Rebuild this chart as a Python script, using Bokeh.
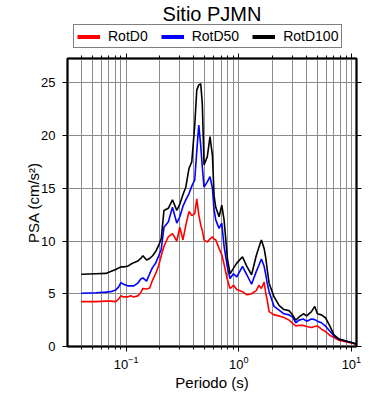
from bokeh.plotting import figure
from bokeh.layouts import column
from bokeh.models import (LogAxis, LinearAxis, FixedTicker, Legend, LegendItem, Range1d)
from bokeh.embed import file_html
from bokeh.resources import INLINE

periods = [0.040, 0.054, 0.066, 0.073, 0.081, 0.086, 0.090, 0.095, 0.103, 0.110,
           0.117, 0.127, 0.135, 0.141, 0.152, 0.162, 0.172, 0.183, 0.195, 0.205,
           0.217, 0.237, 0.258, 0.282, 0.300, 0.320, 0.339, 0.362, 0.383, 0.407,
           0.424, 0.442, 0.460, 0.475, 0.492, 0.526, 0.556, 0.584, 0.604, 0.625,
           0.669, 0.707, 0.741, 0.794, 0.837, 0.897, 0.960, 1.08, 1.18, 1.30,
           1.43, 1.51, 1.59, 1.68, 1.74, 1.79, 1.86, 2.06, 2.28, 2.52,
           2.80, 3.00, 3.21, 3.43, 3.75, 4.01, 4.42, 4.73, 4.99, 5.42,
           5.92, 6.46, 7.01, 7.76, 8.90, 10.2, 11.0]

rotd100 = [6.85, 6.90, 6.93, 7.10, 7.30, 7.45, 7.55, 7.55, 7.60, 7.80,
           7.95, 8.10, 8.35, 8.60, 8.20, 8.35, 8.60, 9.00, 9.60, 10.2,
           12.9, 13.1, 13.9, 12.9, 13.5, 14.4, 15.1, 16.9, 17.5, 21.0,
           24.3, 24.8, 24.9, 23.0, 17.2, 18.0, 19.9, 18.1, 14.3, 13.2,
           12.3, 13.4, 12.0, 8.30, 6.90, 7.40, 7.90, 8.50, 7.60, 6.80,
           8.60, 9.40, 10.1, 9.30, 8.35, 7.30, 6.00, 4.70, 3.90, 3.50,
           3.40, 3.00, 2.50, 2.80, 3.10, 2.90, 3.30, 3.80, 3.10, 3.00,
           2.70, 1.90, 1.10, 0.70, 0.52, 0.36, 0.24]

rotd50 = [5.05, 5.10, 5.15, 5.20, 5.35, 5.65, 6.05, 5.90, 5.75, 5.75,
          5.75, 6.00, 6.40, 6.50, 6.20, 6.90, 7.50, 7.90, 8.60, 9.20,
          11.3, 11.8, 13.2, 11.7, 12.3, 13.3, 13.9, 14.5, 15.2, 15.8,
          18.5, 21.0, 19.0, 17.0, 15.1, 15.6, 16.1, 15.0, 13.0, 12.0,
          11.2, 11.7, 9.50, 7.50, 6.45, 6.90, 6.60, 7.60, 6.80, 5.90,
          7.10, 7.70, 8.30, 7.60, 6.80, 6.00, 5.20, 3.80, 3.45, 3.10,
          3.00, 2.80, 2.25, 2.50, 2.60, 2.40, 2.60, 2.55, 2.40, 2.25,
          1.90, 1.45, 1.00, 0.70, 0.52, 0.36, 0.24]

rotd0 = [4.25, 4.25, 4.30, 4.30, 4.25, 4.50, 4.80, 4.70, 4.70, 4.80,
         4.70, 4.80, 5.10, 5.50, 5.45, 5.55, 6.30, 6.90, 7.70, 8.60,
         9.50, 10.4, 10.7, 10.0, 11.3, 10.1, 11.5, 12.8, 12.4, 12.6,
         14.0, 12.5, 11.5, 11.0, 10.1, 9.90, 10.2, 10.4, 10.2, 10.1,
         9.30, 8.70, 7.80, 6.30, 5.50, 5.80, 5.40, 5.20, 4.90, 5.00,
         5.30, 5.80, 5.50, 6.10, 5.00, 4.40, 3.30, 3.00, 2.90, 2.75,
         2.50, 2.20, 1.95, 2.00, 2.00, 1.90, 1.80, 1.90, 1.95, 1.65,
         1.40, 1.05, 0.85, 0.60, 0.45, 0.32, 0.22]

series_names = ["RotD0", "RotD50", "RotD100"]
series_colors = ["#ff0000", "#0000ff", "#000000"]
series_values = [rotd0, rotd50, rotd100]

x_major = [0.1, 1, 10]
x_minor = [0.04, 0.05, 0.06, 0.07, 0.08, 0.09,
           0.2, 0.3, 0.4, 0.5, 0.6, 0.7, 0.8, 0.9,
           2, 3, 4, 5, 6, 7, 8, 9]
y_ticks = [0, 5, 10, 15, 20, 25]
title_text = "Sitio PJMN"

FONT = "Liberation Sans"

# ---- header: title + legend (frame spans the same columns as the main frame) ----
head = figure(width=390, height=49, x_range=Range1d(-2, -1), y_range=Range1d(-2, -1),
              output_backend="svg", toolbar_location=None,
              x_axis_location=None, y_axis_location=None,
              min_border_left=67, min_border_right=34,
              min_border_top=0, min_border_bottom=0,
              title=title_text)
head.title.align = "center"
head.title.text_font = FONT
head.title.text_font_size = "20px"
head.title.text_font_style = "normal"
head.title.text_color = "black"
head.title.standoff = 0
head.outline_line_color = None
head.grid.visible = False
head.background_fill_color = "white"
head.border_fill_color = "white"

# legend keys: the same series, drawn outside the header's visible ranges
key_lines = []
for vals, col in zip(series_values, series_colors):
    key_lines.append(head.line(periods, vals, line_color=col, line_width=4))

legend = Legend(items=[LegendItem(label=n, renderers=[r])
                       for n, r in zip(series_names, key_lines)],
                orientation="horizontal", location=(6, 1),
                border_line_color="black", border_line_width=1.5,
                background_fill_color="white", background_fill_alpha=1,
                padding=3, spacing=13, margin=0,
                glyph_width=23, glyph_height=15, label_height=15,
                label_standoff=8, label_text_font=FONT,
                label_text_font_size="14px", label_text_color="black")
head.add_layout(legend, "center")

# ---- main plot ----
p = figure(width=390, height=351, x_axis_type="log",
           x_range=Range1d(0.0302, 11.1), y_range=Range1d(0, 27.3),
           output_backend="svg", toolbar_location=None,
           min_border_left=67, min_border_right=34,
           min_border_top=9, min_border_bottom=54)

p.outline_line_color = "black"
p.outline_line_width = 2
p.background_fill_color = "white"
p.border_fill_color = "white"

for vals, col in zip(series_values, series_colors):
    p.line(periods, vals, line_color=col, line_width=1.6)

ax = p.xaxis[0]
ax.ticker = FixedTicker(ticks=x_major, minor_ticks=x_minor)
ax.axis_label = "Periodo (s)"
ay = p.yaxis[0]
ay.ticker = FixedTicker(ticks=y_ticks)
ay.axis_label = "PSA (cm/s²)"

for a in (ax, ay):
    a.axis_label_text_font = FONT
    a.axis_label_text_font_size = "15px"
    a.axis_label_text_font_style = "normal"
    a.axis_label_text_color = "black"
    a.major_label_text_font = FONT
    a.major_label_text_font_size = "13px"
    a.major_label_text_color = "black"
    a.axis_line_color = "black"
    a.axis_line_width = 1.5
    a.major_tick_line_color = "black"
    a.minor_tick_line_color = "black"
    a.major_tick_in = 0
    a.major_tick_out = 5
    a.minor_tick_in = 0
    a.minor_tick_out = 3
ay.minor_tick_line_color = None
ax.major_label_standoff = 4
ay.major_label_standoff = 7
ax.axis_label_standoff = 2
ay.axis_label_standoff = -4

top = LogAxis(ticker=FixedTicker(ticks=x_major, minor_ticks=x_minor),
              major_label_text_color=None, major_label_text_font_size="1px",
              major_label_standoff=0,
              major_tick_in=0, major_tick_out=5, minor_tick_in=0, minor_tick_out=3,
              axis_line_color="black", axis_line_width=1.5)
right = LinearAxis(ticker=FixedTicker(ticks=y_ticks),
                   major_label_text_color=None, major_label_text_font_size="1px",
                   major_label_standoff=0,
                   major_tick_in=0, major_tick_out=5, minor_tick_line_color=None,
                   axis_line_color="black", axis_line_width=1.5)
p.add_layout(top, "above")
p.add_layout(right, "right")

grid_col = "#8c8c8c"
p.xgrid.grid_line_color = grid_col
p.xgrid.minor_grid_line_color = grid_col
p.xgrid.grid_line_width = 1
p.xgrid.minor_grid_line_width = 1
p.ygrid.grid_line_color = grid_col
p.ygrid.grid_line_width = 1

layout = column(head, p, spacing=0)
open("out.html", "w").write(file_html(layout, INLINE))
